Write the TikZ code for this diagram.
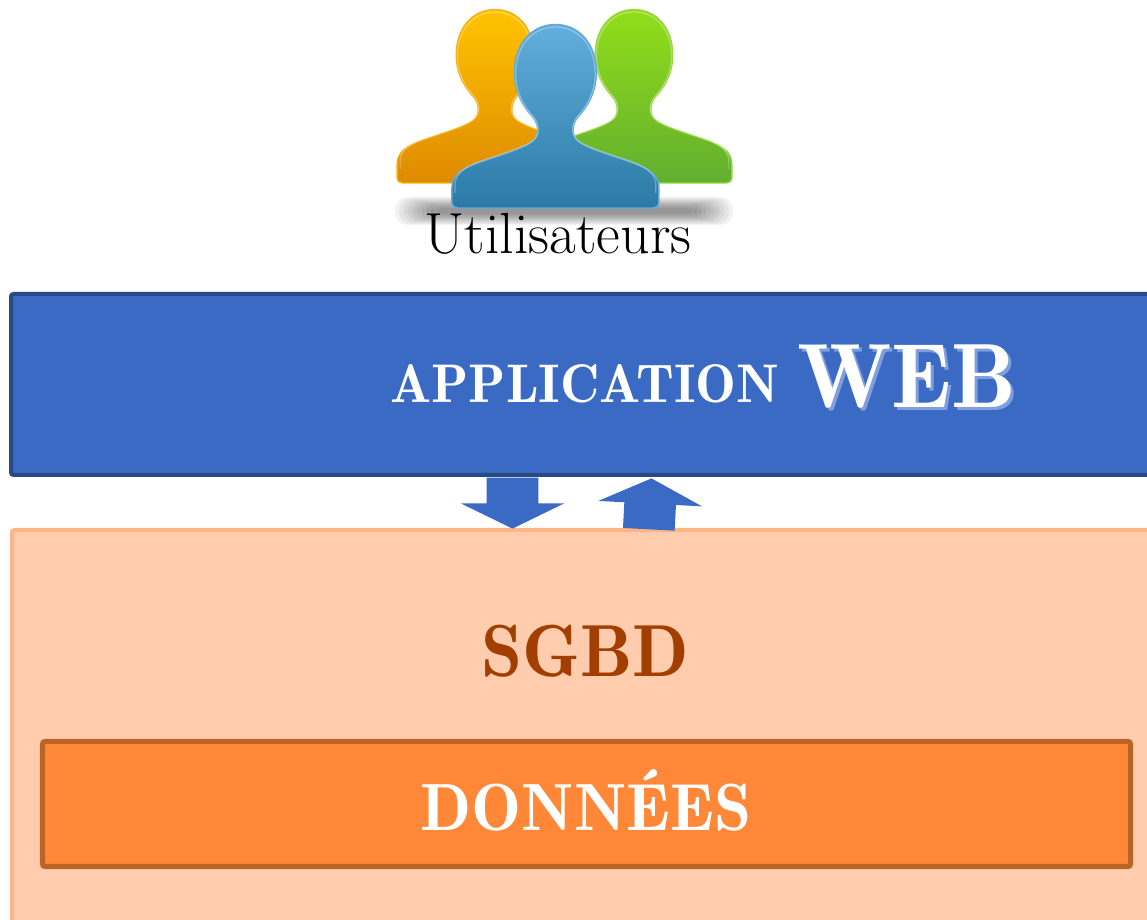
\documentclass[tikz,border=0pt]{standalone}
\usepackage{amsmath}
\usetikzlibrary{shapes.arrows}
\definecolor{appblue}{HTML}{3A6AC4}
\definecolor{appline}{HTML}{2A4A85}
\definecolor{webshadow}{HTML}{7F9FDC}
\definecolor{sgbdfill}{HTML}{FFCDAD}
\definecolor{sgbdline}{HTML}{FFB585}
\definecolor{sgbdtext}{HTML}{A23F00}
\definecolor{datafill}{HTML}{FF8738}
\definecolor{dataline}{HTML}{BC6428}
\tikzset{
  layer/.style={draw, rectangle, inner sep=0pt, rounded corners=0.05cm},
  blockarrow/.style={single arrow, fill=appblue, inner xsep=0pt, inner ysep=0.51cm,
    minimum height=1.02cm, single arrow head extend=0.52cm, single arrow tip angle=128},
  title/.style={anchor=base, font=\fontseries{b}\selectfont},
  orangeman/.style={top color={rgb,255:red,255;green,196;blue,0}, bottom color={rgb,255:red,222;green,138;blue,0},
    draw={rgb,255:red,245;green,176;blue,20}},
  greenman/.style={top color={rgb,255:red,146;green,222;blue,26}, bottom color={rgb,255:red,98;green,174;blue,48},
    draw={rgb,255:red,150;green,214;blue,60}},
  blueman/.style={top color={rgb,255:red,98;green,174;blue,220}, bottom color={rgb,255:red,43;green,122;blue,166},
    draw={rgb,255:red,100;green,170;blue,214}}
}
\newcommand{\personpath}{(0,3.67) .. controls (.5,3.67) and (.82,3.25) .. (.82,2.71)
  .. controls (.82,2.3) and (.62,2.0) .. (.46,1.83)
  .. controls (.34,1.7) and (.3,1.46) .. (.46,1.33)
  .. controls (.6,1.22) and (.9,1.12) .. (1.2,1.02)
  .. controls (1.6,.88) and (2.07,.78) .. (2.07,.4) -- (2.07,.11)
  .. controls (2.07,.03) and (2.0,0) .. (1.95,0) -- (-1.95,0)
  .. controls (-2.0,0) and (-2.07,.03) .. (-2.07,.11) -- (-2.07,.4)
  .. controls (-2.07,.78) and (-1.6,.88) .. (-1.2,1.02)
  .. controls (-.9,1.12) and (-.6,1.22) .. (-.46,1.33)
  .. controls (-.3,1.46) and (-.34,1.7) .. (-.46,1.83)
  .. controls (-.62,2.0) and (-.82,2.3) .. (-.82,2.71)
  .. controls (-.82,3.25) and (-.5,3.67) .. (0,3.67) -- cycle}
\newcommand{\person}[4]{\begin{scope}[shift={(#1,#2)},scale=#3]
    \path[#4,line width=0.8pt] \personpath;
    \begin{scope}
      \clip (-3,.3) rectangle (3,4);
      \begin{scope}[shift={(0,.06)},scale=.97]
        \draw[white,opacity=.3,line width=0.7pt] \personpath;
      \end{scope}
    \end{scope}
  \end{scope}}
\begin{document}
\begin{tikzpicture}
	\useasboundingbox (0,0) rectangle (22.94,18.38);
	\clip (0,0) rectangle (22.94,18.38);
	% shadow under the three people
	\foreach \i in {0,...,9}
		\fill[black,opacity=0.05,rounded corners=0.25cm]
			(7.9+\i*0.08,13.88+\i*0.024) rectangle (14.66-\i*0.08,14.44-\i*0.024);
	\person{9.9}{14.72}{0.945}{orangeman}
	\person{12.68}{14.72}{0.945}{greenman}
	\person{11.108}{14.22}{1}{blueman}
	\node (users) [anchor=base] at (11.16,13.3) {\fontsize{33}{40}\selectfont Utilisateurs};

	\node (sgbd) [layer, draw=sgbdline, fill=sgbdfill, line width=0.08cm,
		minimum width=23.18cm, minimum height=8.2cm] at (11.83,3.68) {};
	\node (appweb) [layer, draw=appline, fill=appblue, line width=0.08cm,
		minimum width=23.2cm, minimum height=3.62cm] at (11.82,10.69) {};
	\node (donnees) [layer, draw=dataline, fill=datafill, line width=0.1cm,
		minimum width=21.76cm, minimum height=2.5cm] at (11.73,2.30) {};

	\node (down) [blockarrow, rotate=-90, anchor=tip] at (10.25,7.80) {};
	\node (up) [blockarrow, rotate=87, anchor=tip] at (13.03,8.82) {};

	\node (applabel) [title, text=white] at (11.7,10.32)
		{\fontsize{31}{36}\selectfont APPLICATION};
	\node (webback) [title, text=webshadow] at (18.2,10.16)
		{\fontsize{52}{60}\selectfont WEB};
	\node (weblabel) [title, text=white] at (18.14,10.22)
		{\fontsize{52}{60}\selectfont WEB};
	\node (sgbdlabel) [title, text=sgbdtext] at (11.71,4.84)
		{\fontsize{42}{50}\selectfont SGBD};
	\node (datalabel) [title, text=white] at (11.72,1.78)
		{\fontsize{38}{46}\selectfont DONNÉES};
\end{tikzpicture}
\end{document}
